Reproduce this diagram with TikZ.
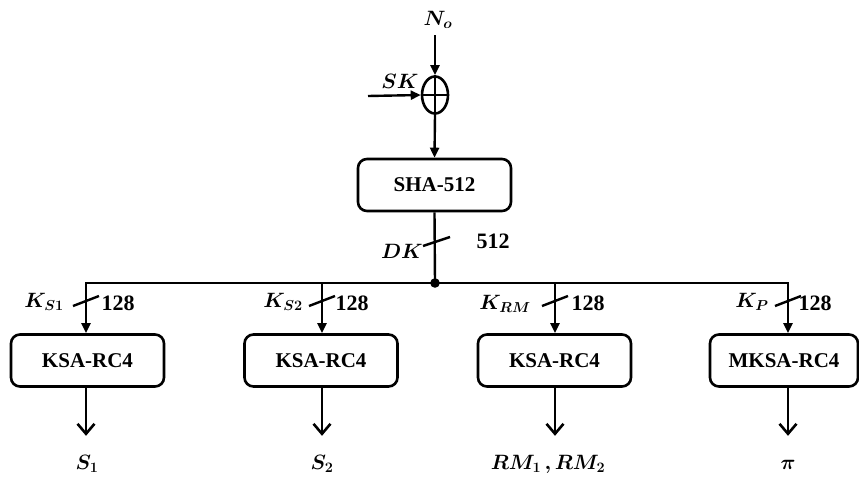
\documentclass[tikz,border=0pt]{standalone}
\usepackage{amsmath}
\usepackage{bm}
\usepackage{fontspec}
\setmainfont{Liberation Serif}
\usetikzlibrary{arrows.meta,shapes.geometric,calc}
\begin{document}
\begin{tikzpicture}[x=1pt,y=-1pt,
  box/.style={draw,line width=2.6pt,rounded corners=9pt,minimum width=153pt,minimum height=52pt,font=\fontsize{21}{24}\selectfont\bfseries},
  conn/.style={line width=2.4pt},
  inarrow/.style={conn,-{Triangle[length=10pt,width=9pt]}},
  outarrow/.style={conn,-{Straight Barb[length=10pt,width=17pt,line width=2.6pt]}},
  lbl/.style={font=\fontsize{22}{24}\selectfont,inner sep=0pt},
  num/.style={font=\fontsize{22}{24}\selectfont\bfseries,inner sep=0pt},
  slash/.style={line width=2.4pt}]
\useasboundingbox (0,0) rectangle (859,477);
% top
\node[lbl] (no) at (438,20) {$\bm{N_o}$};
\node[draw,ellipse,line width=2.6pt,minimum width=26pt,minimum height=37pt,inner sep=0pt] (xor) at (435,95) {};
\draw[line width=2.2pt] (xor.west) -- (xor.east) (xor.north) -- (xor.south);
\coordinate (skin) at (368,96);
\node[lbl] (sk) at (400,81) {$\bm{SK}$};
\draw[inarrow] (435,35) -- (xor.north);
\draw[inarrow] (skin) -- (xor.west);
\node[box] (sha) at (434.5,185) {SHA-512};
\draw[inarrow] (xor.south) -- (sha.north);
\coordinate (j) at (435,283);
\draw[conn] (sha.south) -- (j);
\fill (j) circle (4.8pt);
\draw[slash] (423,246) -- (450,237);
\node[lbl] (dk) at (402,251) {$\bm{DK}$};
\node[num] (n512) at (493,241) {512};
% boxes
\node[box] (b1) at (87.5,360.5) {KSA-RC4};
\node[box] (b2) at (321,360.5) {KSA-RC4};
\node[box] (b3) at (554.5,360.5) {KSA-RC4};
\node[box,minimum width=148pt] (b4) at (784,360.5) {MKSA-RC4};
\draw[inarrow] (j) -| ($(b1.north)+(-1.5,0)$);
\draw[inarrow] (j) -| ($(b2.north)+(1,0)$);
\draw[inarrow] (j) -| ($(b3.north)+(0.5,0)$);
\draw[inarrow] (j) -| ($(b4.north)+(4,0)$);
% slashes
\draw[slash] (73,306) -- (99,296);
\draw[slash] (309,306) -- (335,296);
\draw[slash] (542,306) -- (568,296);
\draw[slash] (775,306) -- (801,296);
% labels
\node[lbl] (k1) at (44,302) {$\bm{K_{S1}}$};
\node[num] (c1) at (118,303) {128};
\node[lbl] (k2) at (283,302) {$\bm{K_{S2}}$};
\node[num] (c2) at (352,303) {128};
\node[lbl] (k3) at (505,304) {$\bm{K_{RM}}$};
\node[num] (c3) at (588,303) {128};
\node[lbl] (k4) at (752,302) {$\bm{K_P}$};
\node[num] (c4) at (815,303) {128};
% outputs
\node[lbl,anchor=base] (o1) at (87,469) {$\bm{S_1}$};
\node[lbl,anchor=base] (o2) at (322,469) {$\bm{S_2}$};
\node[lbl,anchor=base] (o3) at (548,469) {$\bm{RM_1\,,RM_2}$};
\node[lbl,anchor=base] (o4) at (788,469) {$\bm{\pi}$};
\draw[outarrow] ($(b1.south)+(-1.5,0)$) -- ++(0,48);
\draw[outarrow] ($(b2.south)+(1,0)$) -- ++(0,48);
\draw[outarrow] ($(b3.south)+(0.5,0)$) -- ++(0,48);
\draw[outarrow] ($(b4.south)+(4,0)$) -- ++(0,48);
\end{tikzpicture}
\end{document}
